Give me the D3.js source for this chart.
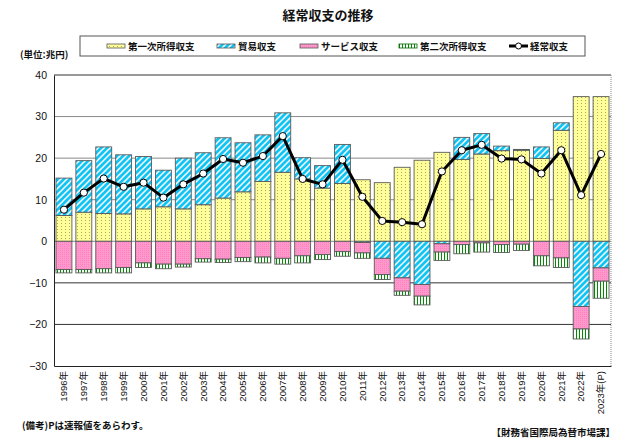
<!DOCTYPE html>
<html><head><meta charset="utf-8">
<script src="https://cdn.jsdelivr.net/npm/d3@7"></script>
<style>
body{margin:0;background:#fff;}
svg{display:block;}
text{font-family:"Liberation Sans","Noto Sans CJK JP",Arial,sans-serif;}
.jp{font-family:"Noto Sans CJK JP","Liberation Sans",sans-serif;}
</style></head>
<body>
<script>
const years = ["1996年","1997年","1998年","1999年","2000年","2001年","2002年","2003年","2004年","2005年","2006年","2007年","2008年","2009年","2010年","2011年","2012年","2013年","2014年","2015年","2016年","2017年","2018年","2019年","2020年","2021年","2022年","2023年(P)"];
const primaryIncome   = [6.2,7.0,6.7,6.6,7.8,8.3,7.8,8.8,10.4,11.9,14.4,16.6,15.0,12.8,13.9,14.8,14.1,17.8,19.5,21.4,19.7,21.0,21.8,21.9,19.9,26.7,34.8,34.8];
const tradeBalance    = [9.0,12.4,16.0,14.2,12.6,8.8,12.2,12.5,14.5,11.8,11.2,14.3,5.1,5.4,9.4,-0.3,-4.1,-8.8,-10.4,-0.6,5.3,4.9,1.1,0.2,2.8,1.8,-15.7,-6.4];
const servicesBalance = [-6.8,-6.8,-6.6,-6.3,-5.2,-5.5,-5.5,-4.2,-4.3,-3.9,-3.8,-4.1,-3.5,-3.2,-2.5,-2.5,-3.9,-3.2,-2.8,-2.0,-0.8,-0.4,-0.8,-0.7,-3.5,-4.0,-5.4,-3.2];
const secondaryIncome = [-0.8,-0.8,-1.0,-1.3,-1.1,-1.1,-0.7,-0.8,-0.8,-1.0,-1.4,-1.4,-1.7,-1.2,-1.1,-1.3,-1.2,-1.0,-2.1,-2.0,-2.2,-2.2,-1.9,-1.5,-2.4,-2.3,-2.4,-4.1];
const currentAccount  = [7.6,11.7,15.1,13.1,14.1,10.5,13.7,16.3,19.8,18.9,20.5,25.3,15.0,13.7,19.6,10.7,4.9,4.6,4.1,16.8,21.9,23.2,19.9,19.7,16.3,21.9,11.1,21.0];
const yTicks = [40,30,20,10,0,-10,-20,-30];
const seriesNames = ["第一次所得収支","貿易収支","サービス収支","第二次所得収支","経常収支"];
const titleText = "経常収支の推移";
const unitText = "(単位:兆円)";
const noteText = "(備考)Pは速報値をあらわす。";
const sourceText = "【財務省国際局為替市場課】";

const W = 630, H = 441;
const svg = d3.select("body").append("svg").attr("width", W).attr("height", H);
const defs = svg.append("defs");

// patterns
const pY = defs.append("pattern").attr("id","pYellow").attr("patternUnits","userSpaceOnUse").attr("width",4).attr("height",3);
pY.append("rect").attr("width",4).attr("height",3).attr("fill","#ffff99");
pY.append("rect").attr("x",1).attr("y",1).attr("width",1).attr("height",1).attr("fill","#b0a860");

const pB = defs.append("pattern").attr("id","pBlue").attr("patternUnits","userSpaceOnUse").attr("width",6).attr("height",6);
pB.append("rect").attr("width",6).attr("height",6).attr("fill","#10c4f4");
pB.append("path").attr("d","M-1,7 L7,-1 M-4,4 L4,-4 M2,10 L10,2").attr("stroke","#ffffff").attr("stroke-width",1.5);

const pP = defs.append("pattern").attr("id","pPink").attr("patternUnits","userSpaceOnUse").attr("width",2).attr("height",2);
pP.append("rect").attr("width",2).attr("height",2).attr("fill","#ff99cc");
pP.append("rect").attr("x",0).attr("y",0).attr("width",1).attr("height",1).attr("fill","#ff80c0");

const pG = defs.append("pattern").attr("id","pGreen").attr("patternUnits","userSpaceOnUse").attr("width",3).attr("height",3);
pG.append("rect").attr("width",3).attr("height",3).attr("fill","#ffffff");
pG.append("rect").attr("x",0).attr("y",0).attr("width",1).attr("height",3).attr("fill","#008a00");

const fills = ["url(#pYellow)","url(#pBlue)","url(#pPink)","url(#pGreen)"];

const x = d3.scaleBand().domain(years).range([54, 611]).paddingInner(0.2).paddingOuter(0.1);
const y = d3.scaleLinear().domain([-30, 40]).range([366, 75]);

// gridlines
const g = svg.append("g");
g.selectAll("line.grid").data(yTicks.filter(t => t > -30 && t < 40)).enter().append("line")
  .attr("x1", 54).attr("x2", 611).attr("y1", d => y(d)).attr("y2", d => y(d))
  .attr("stroke", d => d < 0 ? "#333" : "#8a8a8a").attr("stroke-width", 1);

// stacked segments
const segs = [];
years.forEach((yr, i) => {
  const p = primaryIncome[i], t = tradeBalance[i], s = servicesBalance[i], sc = secondaryIncome[i];
  segs.push({yr, k:0, y0:0, y1:p});
  let neg = 0;
  if (t >= 0) segs.push({yr, k:1, y0:p, y1:p+t});
  else { segs.push({yr, k:1, y0:t, y1:0}); neg = t; }
  segs.push({yr, k:2, y0:neg+s, y1:neg});
  segs.push({yr, k:3, y0:neg+s+sc, y1:neg+s});
});
svg.append("g").selectAll("rect").data(segs.filter(d => Math.abs(d.y1-d.y0) > 0.05)).enter().append("rect")
  .attr("x", d => x(d.yr)).attr("width", x.bandwidth())
  .attr("y", d => y(d.y1)).attr("height", d => y(d.y0) - y(d.y1))
  .attr("fill", d => fills[d.k]).attr("stroke", "#5a5a5a").attr("stroke-width", 0.9);

// frame
svg.append("line").attr("x1",54).attr("x2",611).attr("y1",75).attr("y2",75).attr("stroke","#333");
svg.append("line").attr("x1",611).attr("x2",611).attr("y1",75).attr("y2",366).attr("stroke","#888").attr("stroke-dasharray","1,1");

// axes
const yAxis = svg.append("g").attr("transform","translate(54,0)")
  .call(d3.axisLeft(y).tickValues(yTicks).tickSize(0).tickPadding(7));
yAxis.select(".domain").attr("stroke","#222");
yAxis.selectAll("text").attr("font-size",10.5).attr("fill","#111").attr("font-family","Liberation Sans, Arial, sans-serif");

const xAxis = svg.append("g").attr("transform","translate(0,366)")
  .call(d3.axisBottom(x).tickSize(0).tickPadding(0));
xAxis.select(".domain").attr("stroke","#222");
xAxis.selectAll("text")
  .attr("transform","rotate(-90)").attr("text-anchor","end")
  .attr("x",-5).attr("y",0).attr("dy","0.35em")
  .attr("font-size",9.5).attr("fill","#111");

// current account line
const line = d3.line().x((d,i) => x(years[i]) + x.bandwidth()/2).y(d => y(d));
svg.append("path").datum(currentAccount).attr("d", line).attr("fill","none")
  .attr("stroke","#000").attr("stroke-width",3).attr("stroke-linejoin","round");
svg.append("g").selectAll("circle").data(currentAccount).enter().append("circle")
  .attr("cx", (d,i) => x(years[i]) + x.bandwidth()/2).attr("cy", d => y(d))
  .attr("r", 3.6).attr("fill","#fff").attr("stroke","#000").attr("stroke-width",1);

// title
svg.append("text").attr("class","jp").attr("x",328).attr("y",20).attr("text-anchor","middle")
  .attr("font-size",13).attr("font-weight","bold").attr("fill","#111").text(titleText);

// unit
svg.append("text").attr("class","jp").attr("x",20).attr("y",58).attr("font-size",9.5).attr("font-weight","bold").attr("fill","#111").text(unitText);

// legend
const lg = svg.append("g");
lg.append("rect").attr("x",80).attr("y",36).attr("width",505).attr("height",20).attr("fill","#fff").attr("stroke","#555").attr("stroke-width",1);
const legX = [107, 217, 300, 399, 509];
seriesNames.forEach((n, i) => {
  if (i < 4) {
    lg.append("rect").attr("x", legX[i]).attr("y", 44).attr("width", 18).attr("height", 4)
      .attr("fill", fills[i]).attr("stroke", i===3 ? "#006600" : "#555").attr("stroke-width",0.8);
  } else {
    lg.append("line").attr("x1", legX[i]).attr("x2", legX[i]+19).attr("y1",46).attr("y2",46).attr("stroke","#000").attr("stroke-width",3);
    lg.append("circle").attr("cx", legX[i]+9.5).attr("cy",46).attr("r",3).attr("fill","#fff").attr("stroke","#000").attr("stroke-width",1);
  }
  lg.append("text").attr("class","jp").attr("x", legX[i]+21).attr("y",50).attr("font-size",9.5).attr("font-weight","bold").attr("fill","#111").text(n);
});

// notes
svg.append("text").attr("class","jp").attr("x",22).attr("y",429).attr("font-size",9.5).attr("font-weight","bold").attr("fill","#111").text(noteText);
svg.append("text").attr("class","jp").attr("x",615).attr("y",436).attr("text-anchor","end").attr("font-size",9.5).attr("font-weight","bold").attr("fill","#111").text(sourceText);
</script>
</body></html>
